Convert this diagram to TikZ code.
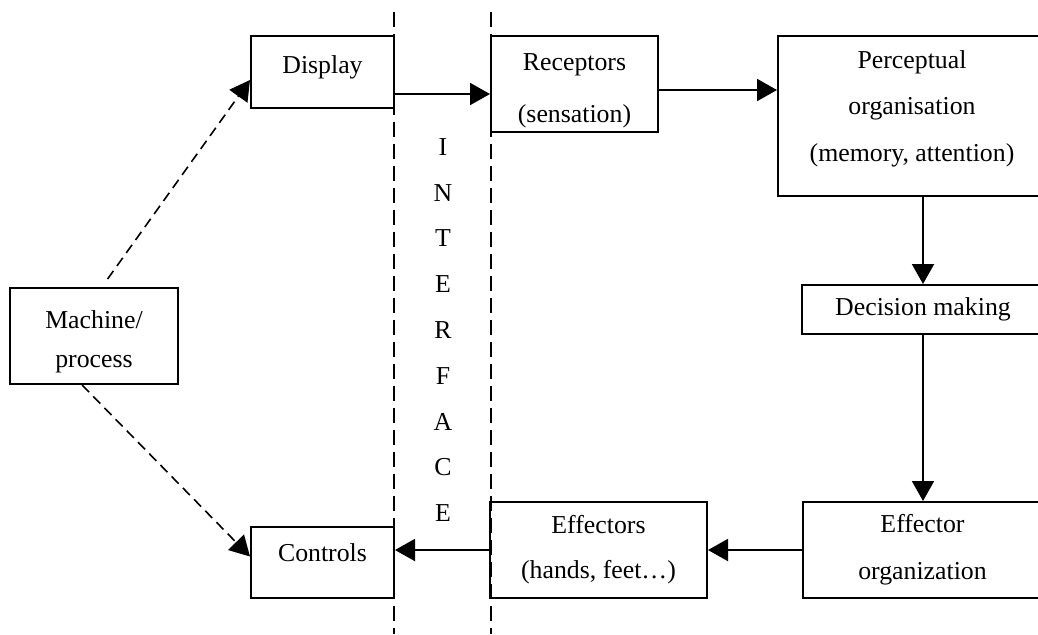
\documentclass[tikz,border=0pt]{standalone}
\usepackage{fontspec}
\setmainfont{Liberation Serif}
\usetikzlibrary{arrows.meta, calc}

\begin{document}
\begin{tikzpicture}[x=0.5pt, y=-0.5pt, line width=1pt,
		>={Triangle[length=10pt, width=11pt]},
		box/.style={draw, inner sep=0pt, align=center, font=\fontsize{12.9}{23pt}\selectfont},
		lines/.style={font=\fontsize{12.9}{#1}\selectfont},
		sep/.style={line width=0.8pt, dash pattern=on 7.5pt off 3.5pt},
		link/.style={->, line width=0.8pt, dash pattern=on 5pt off 3pt}]
			\useasboundingbox (0,0) rectangle (1038,634);
			\clip (0,0) rectangle (1038,634);
			\draw[sep] (394,12) -- (394,634);
			\draw[sep] (491,12) -- (491,634);
			\node[align=center, lines=22.9pt] (iface) at (443,330) {I\\N\\T\\E\\R\\F\\A\\C\\E};
			\node[box, minimum width=71.5pt, minimum height=36pt, text depth=7.8pt] (disp) at (322.5,72) {Display};
			\node[box, lines=26pt, minimum width=83.5pt, minimum height=48pt] (recep) at (574.5,84) {\rule{0pt}{15.5pt}Receptors\\(sensation)};
			\node[box, lines=23.25pt, minimum width=134pt, minimum height=80pt, text depth=10.3pt] (percep) at (912,116) {Perceptual\\organisation\\(memory, attention)};
			\node[box, minimum width=121pt, minimum height=24.5pt] (dec) at (923,309.5) {Decision making};
			\node[box, lines=23.5pt, minimum width=119.5pt, minimum height=48pt] (efforg) at (922.5,550) {Effector\\organization};
			\node[box, lines=22.5pt, minimum width=108.5pt, minimum height=48pt] (effec) at (598.5,550) {Effectors\\(hands, feet\dots)};
			\node[box, minimum width=71.5pt, minimum height=35.5pt, text depth=9.5pt] (ctrl) at (322.5,562.5) {Controls};
			\node[box, lines=19.5pt, minimum width=84pt, minimum height=48pt] (mach) at (94,336) {\rule{0pt}{14.9pt}Machine/\\process};
			\draw[->] ($(disp.east)+(0,22)$) coordinate (a1) -- (a1 -| recep.west);
			\draw[->] ($(recep.east)+(0,6)$) coordinate (a2) -- (a2 -| percep.west);
			\draw[->] (percep.south -| dec.north) -- (dec.north);
			\draw[->] (dec.south) -- (dec.south |- efforg.north);
			\draw[->] (efforg.west) -- (effec.east);
			\draw[->] (effec.west) -- (effec.west -| ctrl.east);
			\draw[link] ($(mach.north west)!0.58!(mach.north east)+(0,-8)$) -- ($(disp.west)+(0,8)$);
			\draw[link] ($(mach.south west)!0.43!(mach.south east)$) -- ($(ctrl.west)+(0,-6)$);
		\end{tikzpicture}
\end{document}
